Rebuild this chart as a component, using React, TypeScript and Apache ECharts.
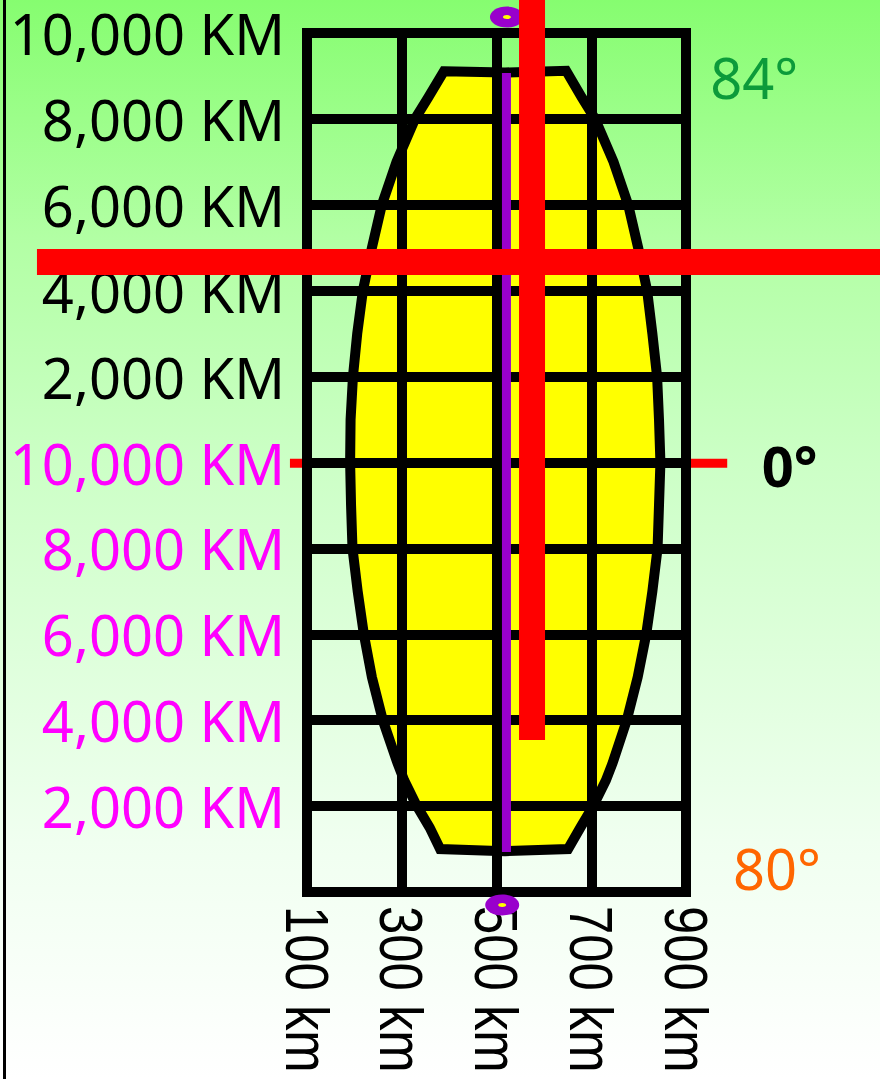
import React, { useEffect, useRef } from 'react';
import * as echarts from 'echarts';

// Tick values and labels
const xTickValues = [100, 300, 500, 700, 900];
const xTickLabels = ['100 km', '300 km', '500 km', '700 km', '900 km'];
const yTickValues = [0, 2000, 4000, 6000, 8000, 10000, 12000, 14000, 16000, 18000, 20000];
const yTickLabels = ['', '2,000 KM', '4,000 KM', '6,000 KM', '8,000 KM', '10,000 KM', '2,000 KM', '4,000 KM', '6,000 KM', '8,000 KM', '10,000 KM'];

// UTM zone outline (easting km, northing km on the 0..20000 scale)
const zoneOutline: [number, number][] = [
  [389, 19110], [518, 19080], [647, 19120],
  [680, 18500], [708, 18000], [747, 17000], [778, 16000], [799, 15000], [818, 14000],
  [829, 13000], [839, 12000], [843, 11000], [846, 10000], [843, 9000], [840, 8000],
  [829, 7000], [816, 6000], [798, 5000], [775, 4000], [745, 3000], [731, 2600],
  [704, 2000], [677, 1500], [651, 1000],
  [518, 950], [381, 1000],
  [359, 1500], [332, 2000], [305, 2600], [291, 3000], [260, 4000], [237, 5000],
  [220, 6000], [207, 7000], [196, 8000], [193, 9000], [191, 10000], [192, 11000],
  [197, 12000], [206, 13000], [218, 14000], [237, 15000], [258, 16000], [289, 17000],
  [328, 18000], [356, 18500],
];

const centralMeridian: [number, number][] = [[521, 19070], [521, 930]];
const poleMarkers: [number, number][] = [[522, 20370], [512, -300]];
const equatorLine: [number, number][] = [[64, 9980], [987, 9980]];
const redCrossH: [number, number][] = [[-470, 14670], [1340, 14670]];
const redCrossV: [number, number][] = [[575, 21000], [575, 3540]];

const latLabels = ['84°', '0°', '80°'];
const latLabelPos: [number, number][] = [[951, 18980], [1060, 9940], [999, 560]];
const latLabelColors = ['#0c9b3a', '#000000', '#ff6600'];
const latLabelWeights = ['normal', 'bold', 'normal'];

const seg = (api: any, pts: [number, number][], color: string, width: number) => {
  const a = api.coord(pts[0]);
  const b = api.coord(pts[1]);
  return {
    type: 'line',
    shape: { x1: a[0], y1: a[1], x2: b[0], y2: b[1] },
    style: { stroke: color, lineWidth: width, lineCap: 'butt' },
  };
};

export default function App() {
  const ref = useRef<HTMLDivElement>(null);
  useEffect(() => {
    if (!ref.current) return;
    const chart = echarts.init(ref.current, undefined, { renderer: 'svg' });
    const option: any = {
      animation: false,
      grid: {
        left: 307, top: 33, width: 379, height: 859,
        containLabel: false, outerBoundsMode: 'none',
        show: true, borderColor: '#000', borderWidth: 10, backgroundColor: 'transparent', z: 3,
      },
      graphic: [
        { type: 'rect', shape: { x: 3, y: 0, width: 3, height: 1079 }, style: { fill: '#000' }, z: 10 },
      ],
      xAxis: {
        type: 'value', min: 100, max: 900, interval: 200, z: 3,
        axisLine: { show: false }, axisTick: { show: false },
        splitLine: { show: true, lineStyle: { color: '#000', width: 10 } },
        axisLabel: { show: false },
      },
      yAxis: {
        type: 'value', min: 0, max: 20000, interval: 2000, z: 3,
        axisLine: { show: false }, axisTick: { show: false },
        splitLine: { show: true, lineStyle: { color: '#000', width: 10 } },
        axisLabel: {
          show: true, margin: 22, interval: 0,
          showMinLabel: true, showMaxLabel: true,
          fontFamily: 'Noto Sans', fontSize: 56,
          color: (v: any) => (Number(v) <= 10000 ? '#ff00ff' : '#000000'),
          formatter: (v: number) => { const i = yTickValues.indexOf(Number(v)); return i >= 0 ? yTickLabels[i] : ''; },
        },
      },
      series: [
        {
          type: 'custom', z: 1, silent: true, clip: false,
          data: [0],
          renderItem: (_p: any, api: any) => ({
            type: 'polygon',
            shape: { points: zoneOutline.map((p) => api.coord(p)) },
            style: { fill: '#ffff00', stroke: '#000', lineWidth: 10, lineJoin: 'miter' },
          }),
        },
        {
          type: 'custom', z: 2, silent: true, clip: false,
          data: [0],
          renderItem: (_p: any, api: any) => seg(api, equatorLine, '#ff0000', 9),
        },
        {
          // condensed, rotated easting tick labels placed on the x scale
          type: 'custom', z: 3, silent: true, clip: false,
          data: [0],
          renderItem: (_p: any, api: any) => ({
            type: 'group',
            children: xTickValues.map((v, i) => {
              const c = api.coord([v, 0]);
              return {
                type: 'text',
                x: c[0], y: c[1] + 14,
                rotation: -Math.PI / 2,
                scaleX: 0.82, scaleY: 1,
                style: {
                  text: xTickLabels[i], fill: '#000',
                  fontFamily: 'Liberation Sans', fontSize: 62,
                  align: 'left', verticalAlign: 'middle',
                },
              };
            }),
          }),
        },
        {
          type: 'custom', z: 4, silent: true, clip: false,
          data: [0],
          renderItem: (_p: any, api: any) => ({
            type: 'group',
            children: [
              seg(api, centralMeridian, '#9900cc', 9),
              ...poleMarkers.flatMap((p) => {
                const c = api.coord(p);
                return [
                  { type: 'ellipse', shape: { cx: c[0], cy: c[1], rx: 17, ry: 10.5 }, style: { fill: '#9900cc' } },
                  { type: 'ellipse', shape: { cx: c[0], cy: c[1], rx: 4, ry: 2 }, style: { fill: '#ffff00' } },
                ];
              }),
            ],
          }),
        },
        {
          type: 'custom', z: 5, silent: true, clip: false,
          data: [0],
          renderItem: (_p: any, api: any) => ({
            type: 'group',
            children: [
              seg(api, redCrossH, '#ff0000', 26),
              seg(api, redCrossV, '#ff0000', 26),
            ],
          }),
        },
        {
          type: 'custom', z: 5, silent: true, clip: false,
          data: [0],
          renderItem: (_p: any, api: any) => ({
            type: 'group',
            children: latLabels.map((t, i) => {
              const c = api.coord(latLabelPos[i]);
              return {
                type: 'text',
                x: c[0], y: c[1],
                style: {
                  text: t, fill: latLabelColors[i], fontWeight: latLabelWeights[i],
                  fontFamily: 'Noto Sans', fontSize: 56, align: 'left', verticalAlign: 'middle',
                },
              };
            }),
          }),
        },
      ],
    };
    chart.setOption(option);
    return () => chart.dispose();
  }, []);
  return (
    <div
      ref={ref}
      style={{
        position: 'absolute', left: 0, top: 0, width: 880, height: 1079,
        background: 'linear-gradient(to bottom, #86fd70 0%, #b2ffa4 22%, #ccffc6 43%, #f0fff0 78%, #ffffff 100%)',
      }}
    />
  );
}
